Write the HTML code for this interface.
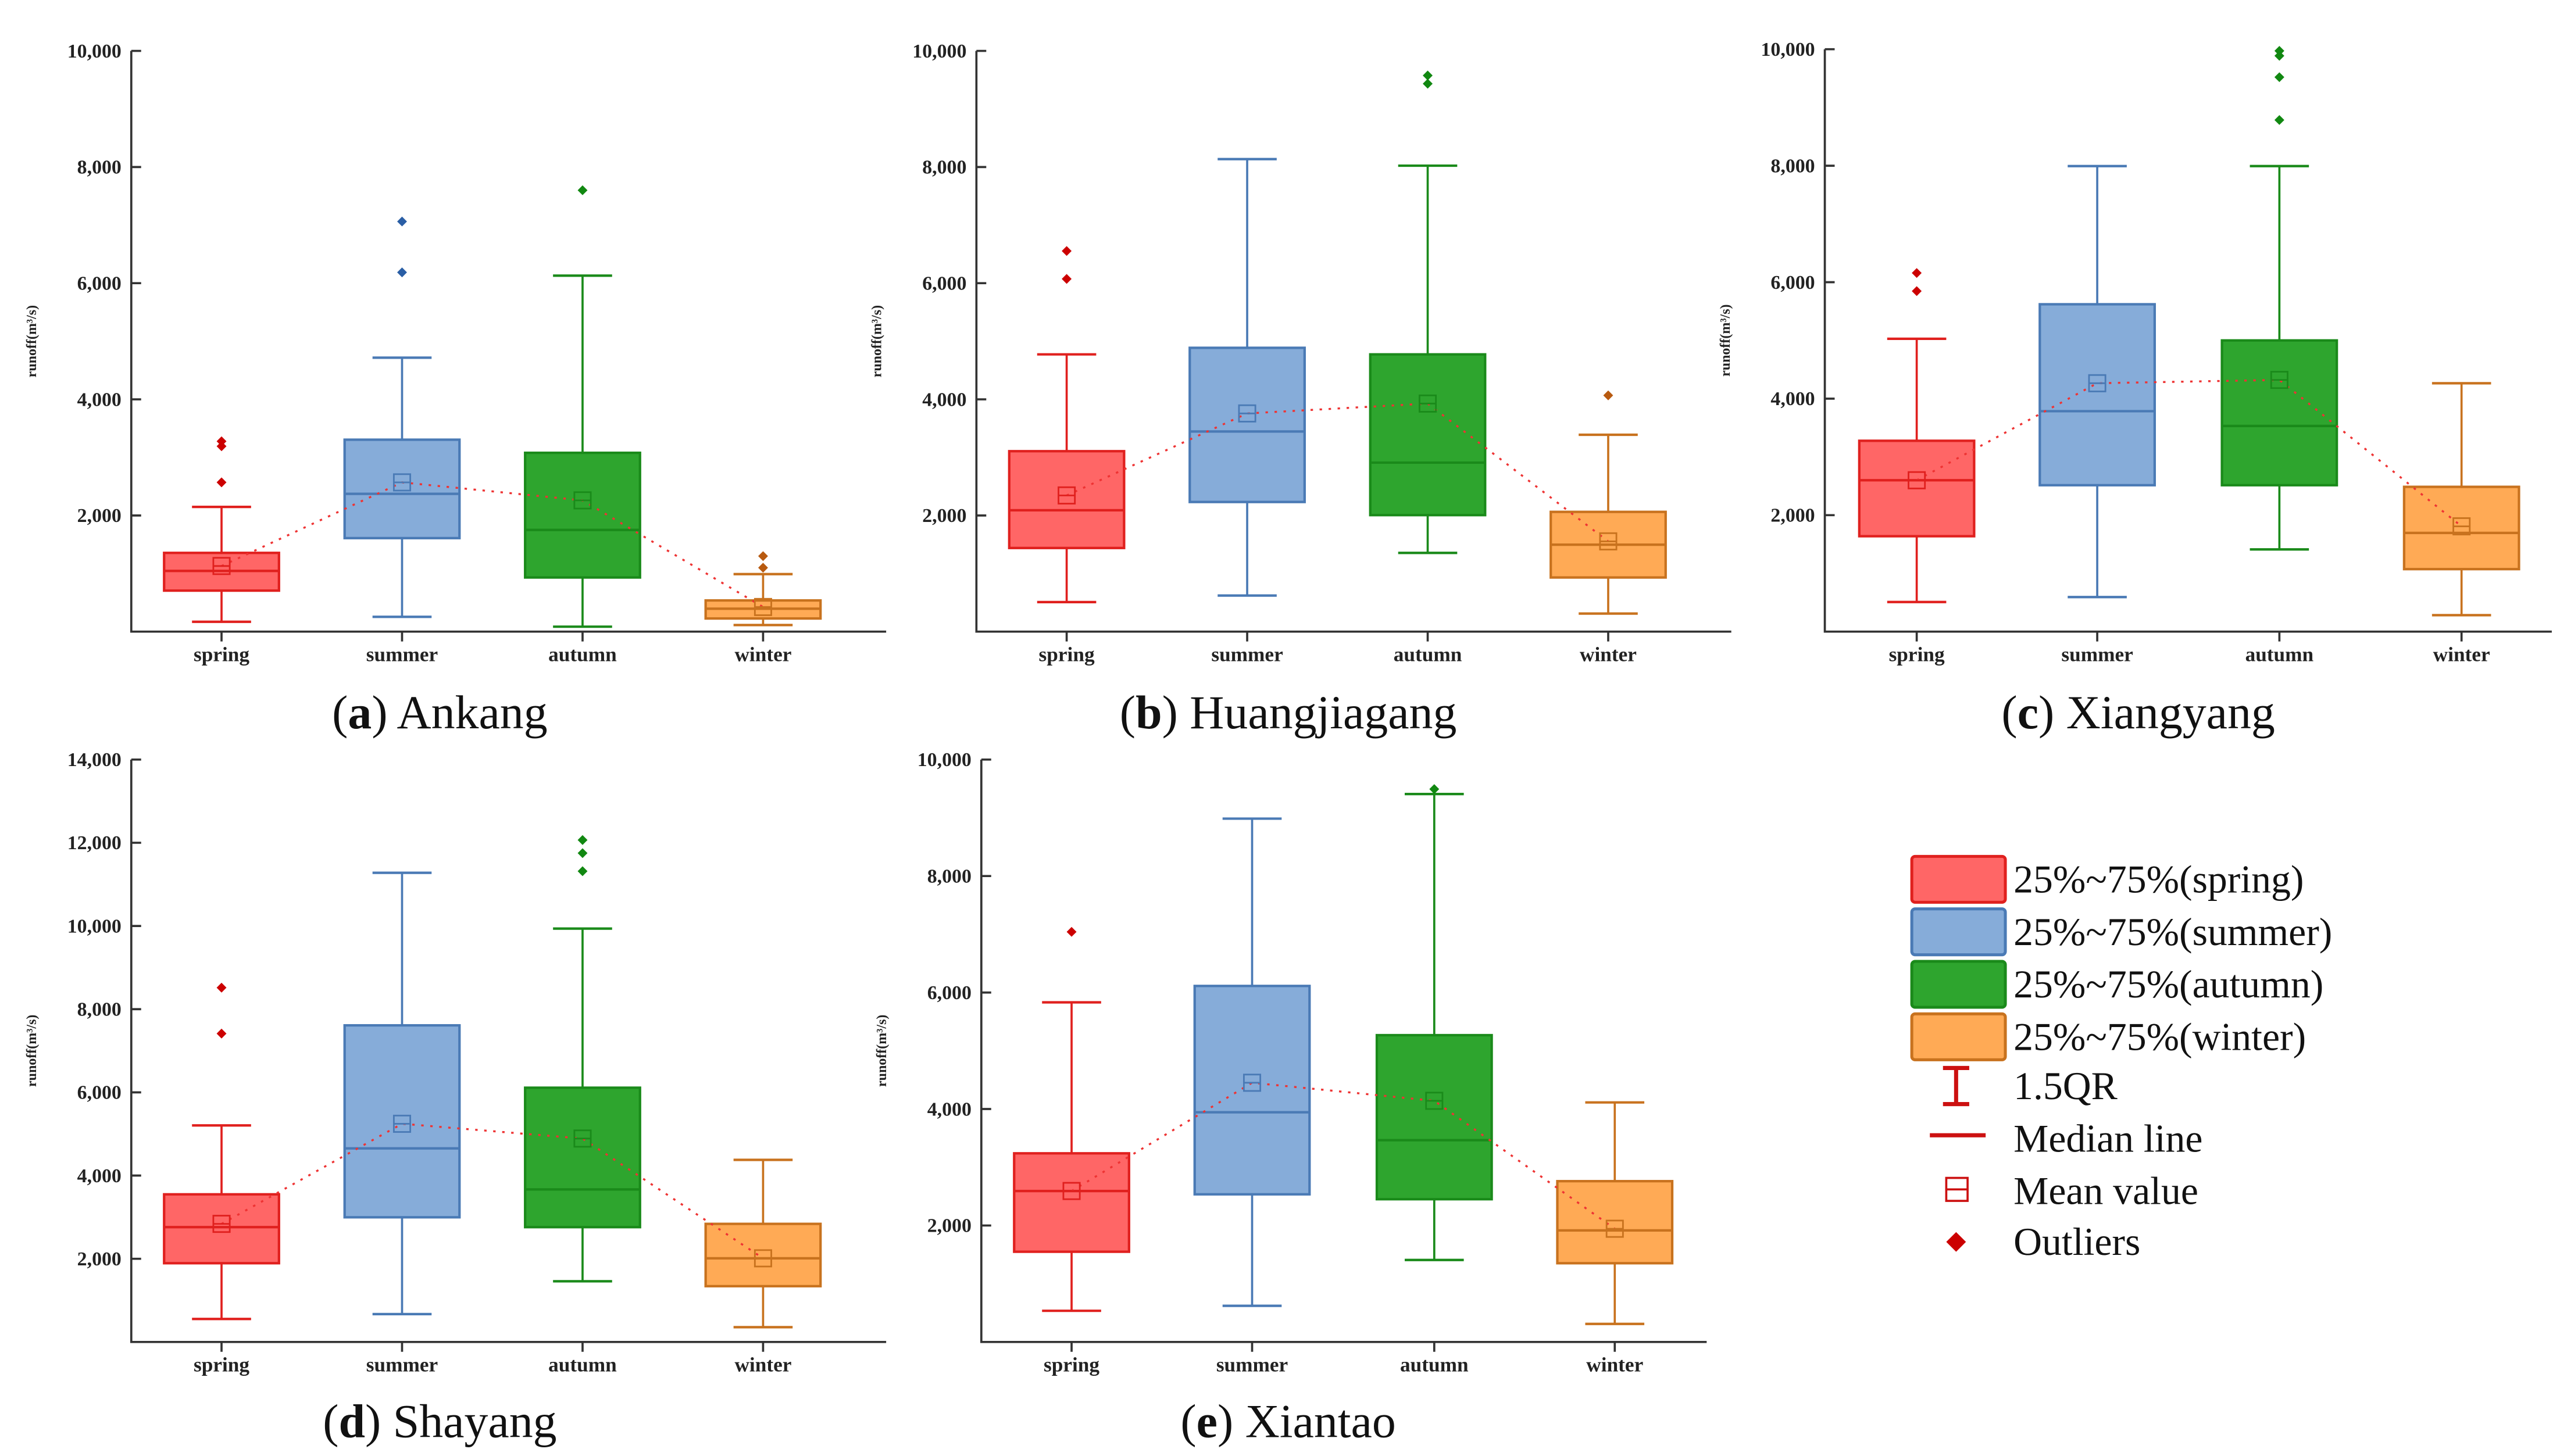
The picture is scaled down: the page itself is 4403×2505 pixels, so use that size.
<!DOCTYPE html>
<html><head><meta charset="utf-8"><style>
html,body{margin:0;padding:0;background:#fff}
svg{display:block}
text{font-family:"Liberation Serif",serif}
</style></head><body>
<svg id="fig" width="4403" height="2505" viewBox="0 0 1560 887.5" xmlns="http://www.w3.org/2000/svg">
<g id="legend"></g>
</svg>
<script>
const seasons = ["spring","summer","autumn","winter"];
const fills = ["#ff6666","#86acd9","#2ea52e","#ffaa55"];
const strokes = ["#e0201e","#4a7ab5","#1a8a1a","#c8721e"];
const outlierColors = ["#cc0000","#2a5ea5","#118811","#b85a10"];
// [low whisker, q1, median, q3, high whisker, mean]
const ankangStats = [[170,706,1045,1356,2147,1130],[254,1610,2373,3305,4717,2570],[85,932,1751,3079,6130,2260],[113,226,395,537,990,424]];
const ankangOut = [[3277,3192,2570],[7062,6186],[7600],[1100,1300]];
const huangStats = [[508,1440,2090,3107,4774,2345],[621,2232,3446,4887,8136,3757],[1356,2006,2910,4774,8023,3927],[311,932,1497,2062,3390,1554]];
const huangOut = [[6073,6554],[],[9435,9576],[4068]];
const xiangStats = [[508,1638,2599,3277,5028,2599],[593,2514,3785,5621,7994,4265],[1412,2514,3531,5000,7994,4322],[282,1073,1695,2486,4265,1808]];
const xiangOut = [[5847,6158],[],[8785,9520,9887,9972],[]];
const shaStats = [[552,1893,2760,3549,5205,2839],[670,2997,4653,7611,11278,5245],[1459,2760,3667,6112,9937,4890],[355,1341,2011,2839,4377,2011]];
const shaOut = [[7413,8517],[],[11317,11751,12066],[]];
const xianStats = [[535,1549,2592,3239,5831,2592],[620,2535,3944,6113,8986,4451],[1408,2451,3465,5268,9408,4141],[310,1352,1915,2761,4113,1944]];
const xianOut = [[7042],[],[9493],[]];
const ticks10 = [2000,4000,6000,8000,10000];
const ticks14 = [2000,4000,6000,8000,10000,12000,14000];

const NS="http://www.w3.org/2000/svg";
const svg=document.getElementById('fig');
function mk(tag,attrs,parent){const e=document.createElementNS(NS,tag);for(const k in attrs)e.setAttribute(k,attrs[k]);(parent||svg).appendChild(e);return e;}
function fmt(v){return v.toLocaleString('en-US');}

const panels=[
 {key:"a",name:"Ankang",stats:ankangStats,out:ankangOut,ticks:ticks10,max:10000,x0:80,x1:540,top:31,bot:385,cats:[135,245,355,465],tx:268,ty:444},
 {key:"b",name:"Huangjiagang",stats:huangStats,out:huangOut,ticks:ticks10,max:10000,x0:595,x1:1055,top:31,bot:385,cats:[650,760,870,980],tx:785,ty:444},
 {key:"c",name:"Xiangyang",stats:xiangStats,out:xiangOut,ticks:ticks10,max:10000,x0:1112,x1:1555,top:30,bot:385,cats:[1168,1278,1389,1500],tx:1303,ty:444},
 {key:"d",name:"Shayang",stats:shaStats,out:shaOut,ticks:ticks14,max:14000,x0:80,x1:540,top:463,bot:818,cats:[135,245,355,465],tx:268,ty:876},
 {key:"e",name:"Xiantao",stats:xianStats,out:xianOut,ticks:ticks10,max:10000,x0:598,x1:1040,top:463,bot:818,cats:[653,763,874,984],tx:785,ty:876}
];

panels.forEach(p=>{
 const g=mk('g',{});
 
 
 const y=v=>p.bot-v*(p.bot-p.top)/p.max;
 const ax=mk('path',{d:`M${p.x0},${p.top}V${p.bot}H${p.x1}`,stroke:'#333',fill:'none','stroke-width':1.3},g);
 
 
 p.ticks.forEach(t=>{
  mk('line',{x1:p.x0,x2:p.x0+6,y1:y(t),y2:y(t),stroke:'#333','stroke-width':1.3},g);
  const tl=mk('text',{x:p.x0-6,y:y(t)+4,'text-anchor':'end','font-size':12,'font-weight':'bold',fill:'#222'},g);
  tl.textContent=fmt(t);
  
  
 });
 const yl=mk('text',{transform:`translate(${p.x0-58},${(p.top+p.bot)/2}) rotate(-90)`,'text-anchor':'middle','font-size':8.5,'font-weight':'bold',fill:'#222'},g);
 yl.textContent='runoff(m³/s)';
 
 
 const bw=70, cw=36;
 const means=[];
 p.stats.forEach((s,i)=>{
  const cx=p.cats[i];
  mk('line',{x1:cx,x2:cx,y1:p.bot,y2:p.bot+6,stroke:'#333','stroke-width':1.3},g);
  const cl=mk('text',{x:cx,y:p.bot+18,'text-anchor':'middle','font-size':12.5,'font-weight':'bold',fill:'#222'},g);
  cl.textContent=seasons[i];
  
  
  const bg=mk('g',{},g);
  
  
  const st=strokes[i];
  mk('line',{x1:cx,x2:cx,y1:y(s[0]),y2:y(s[1]),stroke:st,'stroke-width':1.3},bg);
  mk('line',{x1:cx,x2:cx,y1:y(s[3]),y2:y(s[4]),stroke:st,'stroke-width':1.3},bg);
  mk('line',{x1:cx-cw/2,x2:cx+cw/2,y1:y(s[0]),y2:y(s[0]),stroke:st,'stroke-width':1.5},bg);
  mk('line',{x1:cx-cw/2,x2:cx+cw/2,y1:y(s[4]),y2:y(s[4]),stroke:st,'stroke-width':1.5},bg);
  mk('rect',{x:cx-bw/2,y:y(s[3]),width:bw,height:y(s[1])-y(s[3]),fill:fills[i],stroke:st,'stroke-width':1.5},bg);
  mk('line',{x1:cx-bw/2,x2:cx+bw/2,y1:y(s[2]),y2:y(s[2]),stroke:st,'stroke-width':1.5},bg);
  means.push([cx,y(s[5])]);
  p.out[i].forEach(o=>{
   const d=mk('path',{d:`M${cx},${y(o)-3}l3,3l-3,3l-3,-3z`,fill:outlierColors[i]},bg);
   
   
  });
 });
 const ml=mk('polyline',{points:means.map(m=>m.join(',')).join(' '),fill:'none',stroke:'#ee3333','stroke-width':1.2,'stroke-dasharray':'1.5,4'},g);
 
 
 means.forEach((m,i)=>{
  const r=mk('g',{},g);
  
  
  mk('rect',{x:m[0]-5,y:m[1]-5,width:10,height:10,fill:'none',stroke:strokes[i],'stroke-width':1},r);
  mk('line',{x1:m[0]-5,x2:m[0]+5,y1:m[1],y2:m[1],stroke:strokes[i],'stroke-width':1},r);
 });
 const t=mk('text',{x:p.tx,y:p.ty,'text-anchor':'middle','font-size':29,fill:'#111'},g);
 t.innerHTML='(<tspan font-weight="bold">'+p.key+'</tspan>) '+p.name;
 
 
});

// legend
const lg=document.getElementById('legend');
const lab=["25%~75%(spring)","25%~75%(summer)","25%~75%(autumn)","25%~75%(winter)"];
const boxY=[522,554,586,618];
lab.forEach((l,i)=>{
 const it=mk('g',{},lg);
 
 
 mk('rect',{x:1165,y:boxY[i],width:57,height:28,rx:2,fill:fills[i],stroke:strokes[i],'stroke-width':1.8},it);
 const t=mk('text',{x:1227,y:boxY[i]+22,'font-size':24,fill:'#111'},it);
 t.textContent=l;
});
function legText(txt,yy,name){const t=mk('text',{x:1227,y:yy,'font-size':24,fill:'#111'},lg);t.textContent=txt;}
mk('path',{d:'M1184,651H1200M1192,651V673M1184,673H1200',stroke:'#cc1111','stroke-width':2.5,fill:'none'},lg);
legText('1.5QR',670,'legend-1-5qr');
mk('line',{x1:1176,x2:1210,y1:692,y2:692,stroke:'#cc1111','stroke-width':2.5},lg);
legText('Median line',702,'legend-median-line');
mk('rect',{x:1186,y:718,width:13,height:14,fill:'none',stroke:'#cc1111','stroke-width':1.3},lg);
mk('line',{x1:1186,x2:1199,y1:725,y2:725,stroke:'#cc1111','stroke-width':1.3},lg);
legText('Mean value',734,'legend-mean-value');
mk('path',{d:'M1192,751l6,6l-6,6l-6,-6z',fill:'#cc0000'},lg);
legText('Outliers',765,'legend-outliers');
</script>
</body></html>
